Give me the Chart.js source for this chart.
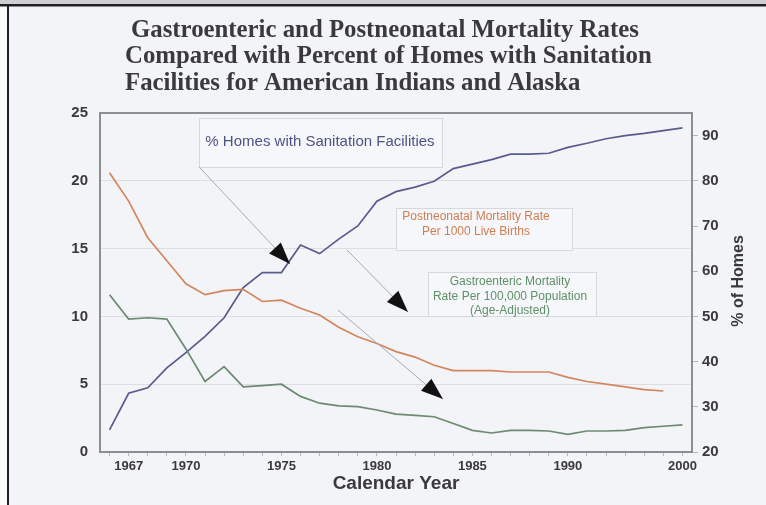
<!DOCTYPE html>
<html><head><meta charset="utf-8">
<script src="https://cdn.jsdelivr.net/npm/chart.js@4.4.1/dist/chart.umd.min.js"></script>
<style>html,body{margin:0;padding:0;background:#fff;overflow:hidden}canvas{display:block}</style>
</head><body>
<canvas id="c" width="766" height="505"></canvas>
<script>
// ---------- data ----------
const years = ['1966','1967','1968','1969','1970','1971','1972','1973','1974','1975',
  '1976','1977','1978','1979','1980','1981','1982','1983','1984','1985',
  '1986','1987','1988','1989','1990','1991','1992','1993','1994','1995','2000'];
const shownYearLabels = ['1967','1970','1975','1980','1985','1990','2000'];
const postneonatalRate = [20.6, 18.5, 15.8, 14.1, 12.4, 11.6, 11.9, 12.0, 11.1, 11.2,
  10.6, 10.1, 9.2, 8.5, 8.0, 7.4, 7.0, 6.4, 6.0, 6.0,
  6.0, 5.9, 5.9, 5.9, 5.5, 5.2, 5.0, 4.8, 4.6, 4.5, null];
const gastroentericRate = [11.6, 9.8, 9.9, 9.8, 7.6, 5.2, 6.3, 4.8, 4.9, 5.0,
  4.1, 3.6, 3.4, 3.35, 3.1, 2.8, 2.7, 2.6, 2.1, 1.6,
  1.4, 1.6, 1.6, 1.55, 1.3, 1.55, 1.55, 1.6, 1.8, 1.9, 2.0];
const homesWithSanitation = [24.9, 33.0, 34.2, 38.6, 42.0, 45.6, 49.7, 56.4, 59.7, 59.7,
  65.8, 63.9, 67.1, 70.0, 75.5, 77.6, 78.6, 79.9, 82.7, 83.7,
  84.7, 85.9, 85.9, 86.1, 87.4, 88.3, 89.3, 90.0, 90.5, 91.1, 91.7];
const leftTicks = [0, 5, 10, 15, 20, 25];
const rightTicks = [20, 30, 40, 50, 60, 70, 80, 90];
const titleLines = ['Gastroenteric and Postneonatal Mortality Rates',
  'Compared with Percent of Homes with Sanitation',
  'Facilities for American Indians and Alaska'];
const xAxisTitle = 'Calendar Year';
const rightAxisTitle = '% of Homes';

// annotation boxes / arrows (x in category index units, y in left-axis units)
const noteBoxes = [
  {x0:4.69, x1:17.41, y0:24.63, y1:21.02, cx:11.02, lines:['% Homes with Sanitation Facilities'], ys:[22.86], color:'#4d5285', size:15},
  {x0:15.0, x1:24.21, y0:17.99, y1:14.90, cx:19.19, lines:['Postneonatal Mortality Rate','Per 1000 Live Births'], ys:[17.33,16.22], color:'#cf7e52', size:12},
  {x0:16.68, x1:25.47, y0:13.27, y1:10.03, cx:20.97, lines:['Gastroenteric Mortality','Rate Per 100,000 Population','(Age-Adjusted)'], ys:[12.54,11.43,10.40], color:'#5f8f66', size:12}
];
const noteArrows = [
  {sx:4.69, sy:21.02, tx:9.45, ty:13.86},
  {sx:12.43, sy:14.90, tx:15.63, ty:10.32},
  {sx:11.96, sy:10.47, tx:17.46, ty:3.91}
];

const SANS = 'Arial, "Liberation Sans", sans-serif';
const SERIF = '"Times New Roman", "Liberation Serif", serif';
const TEXT = '#3a3a3e';

const decor = {
  id: 'decor',
  beforeDraw(chart) {
    const ctx = chart.ctx, W = chart.width, H = chart.height;
    ctx.save();
    ctx.fillStyle = '#cfcfd3'; ctx.fillRect(0, 0, W, H);
    ctx.fillStyle = '#fbfbfb'; ctx.fillRect(0, 6, 8, H);
    ctx.fillStyle = '#f3f4f8'; ctx.fillRect(9, 6, W - 9, H - 6);
    ctx.fillStyle = '#202022';
    ctx.fillRect(0, 4, W, 2.5);
    ctx.fillRect(7, 4, 2, H);
    ctx.fillStyle = TEXT;
    ctx.font = 'bold 24.8px ' + SERIF;
    ctx.textBaseline = 'middle';
    ctx.textAlign = 'left';
    const ty = [31, 57, 84], tx = [131, 125, 125];
    titleLines.forEach((t, i) => ctx.fillText(t, tx[i], ty[i]));
    ctx.restore();
  },
  afterDatasetsDraw(chart) {
    const ctx = chart.ctx, xs = chart.scales.x, ys = chart.scales.y;
    const X = v => xs.left + (xs.right - xs.left) * (v + 0.5) / years.length;
    const Y = v => ys.getPixelForValue(v);
    ctx.save();
    noteBoxes.forEach(b => {
      const x0 = X(b.x0), x1 = X(b.x1), y0 = Y(b.y0), y1 = Y(b.y1);
      ctx.fillStyle = '#f6f7fa';
      ctx.fillRect(x0, y0, x1 - x0, y1 - y0);
      ctx.strokeStyle = '#d6d8de'; ctx.lineWidth = 1;
      ctx.strokeRect(Math.round(x0) + 0.5, Math.round(y0) + 0.5, Math.round(x1 - x0), Math.round(y1 - y0));
      ctx.fillStyle = b.color;
      ctx.font = b.size + 'px ' + SANS;
      ctx.textAlign = 'center'; ctx.textBaseline = 'middle';
      b.lines.forEach((t, i) => ctx.fillText(t, X(b.cx), Y(b.ys[i])));
    });
    noteArrows.forEach(a => {
      const sx = X(a.sx), sy = Y(a.sy), tx = X(a.tx), ty = Y(a.ty);
      ctx.strokeStyle = '#a9abb2'; ctx.lineWidth = 1;
      ctx.beginPath(); ctx.moveTo(sx, sy); ctx.lineTo(tx, ty); ctx.stroke();
      const ang = Math.atan2(ty - sy, tx - sx), L = 22, hw = 8;
      const bx = tx - L * Math.cos(ang), by = ty - L * Math.sin(ang);
      ctx.fillStyle = '#111';
      ctx.beginPath();
      ctx.moveTo(tx, ty);
      ctx.lineTo(bx + hw * Math.sin(ang), by - hw * Math.cos(ang));
      ctx.lineTo(bx - hw * Math.sin(ang), by + hw * Math.cos(ang));
      ctx.closePath(); ctx.fill();
    });
    ctx.restore();
  },
  afterDraw(chart) {
    const ctx = chart.ctx, a = chart.chartArea;
    ctx.save();
    ctx.strokeStyle = '#8c8e94'; ctx.lineWidth = 2;
    ctx.beginPath(); ctx.moveTo(a.left - 1, a.top); ctx.lineTo(a.right + 1, a.top); ctx.stroke();
    ctx.translate(739, 281);
    ctx.rotate(-Math.PI / 2);
    ctx.fillStyle = TEXT;
    ctx.font = 'bold 16px ' + SANS;
    ctx.textAlign = 'center'; ctx.textBaseline = 'middle';
    ctx.fillText(rightAxisTitle, 0, 0);
    ctx.restore();
  }
};

const tickFont = {family: SANS, size: 15, weight: 'bold'};
new Chart(document.getElementById('c'), {
  type: 'line',
  data: {
    labels: years,
    datasets: [
      {label: 'Postneonatal Mortality Rate', data: postneonatalRate, yAxisID: 'y', borderColor: '#d4855d', borderWidth: 1.7, pointRadius: 0, tension: 0},
      {label: 'Gastroenteric Mortality Rate', data: gastroentericRate, yAxisID: 'y', borderColor: '#6c8a70', borderWidth: 1.7, pointRadius: 0, tension: 0},
      {label: '% Homes with Sanitation Facilities', data: homesWithSanitation, yAxisID: 'y1', borderColor: '#575c8c', borderWidth: 1.7, pointRadius: 0, tension: 0}
    ]
  },
  options: {
    responsive: false, animation: false, devicePixelRatio: 1,
    layout: {padding: {top: 113, left: 0, right: 0, bottom: 0}},
    plugins: {legend: {display: false}, tooltip: {enabled: false}, title: {display: false}},
    scales: {
      x: {
        type: 'category', offset: true,
        grid: {offset: false, drawOnChartArea: false, drawTicks: true, tickLength: 4, color: '#b5b7bd'},
        border: {color: '#8c8e94', width: 2},
        ticks: {autoSkip: false, maxRotation: 0, minRotation: 0, padding: 3, color: TEXT,
          font: {family: SANS, size: 13, weight: 'bold'},
          callback(v) { const l = this.getLabelForValue(v); return shownYearLabels.includes(l) ? l : ''; }},
        title: {display: true, text: xAxisTitle, color: TEXT, font: {family: SANS, size: 19, weight: 'bold'}, padding: {top: 0, bottom: 10}},
        afterFit(s) { s.height = 53; }
      },
      y: {
        position: 'left', min: 0, max: 25,
        afterBuildTicks(s) { s.ticks = leftTicks.map(v => ({value: v})); },
        grid: {color: '#dcdee4', drawTicks: false, lineWidth: 1},
        border: {color: '#8c8e94', width: 2},
        ticks: {padding: 12, color: TEXT, font: tickFont},
        afterFit(s) { s.width = 100; }
      },
      y1: {
        position: 'right', min: 20, max: 95,
        afterBuildTicks(s) { s.ticks = rightTicks.map(v => ({value: v})); },
        grid: {drawOnChartArea: false, drawTicks: true, tickLength: 6, color: '#b5b7bd'},
        border: {color: '#8c8e94', width: 2},
        ticks: {padding: 4, color: TEXT, font: tickFont},
        afterFit(s) { s.width = 74; }
      }
    }
  },
  plugins: [decor]
});
</script>
</body></html>
